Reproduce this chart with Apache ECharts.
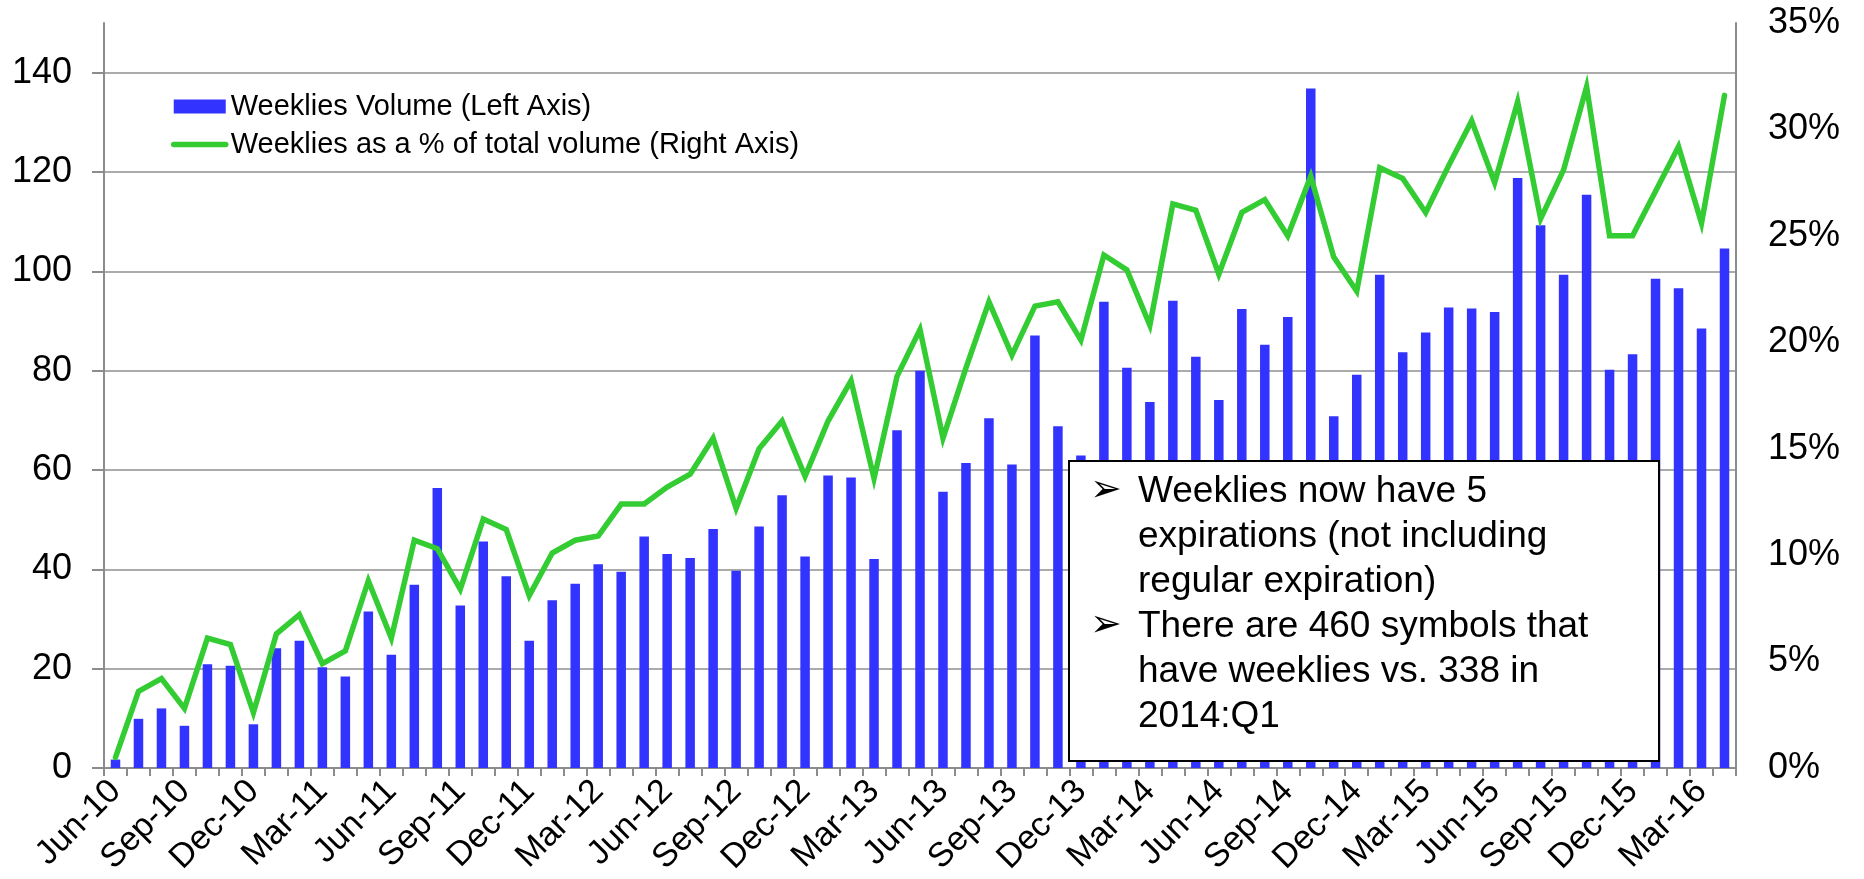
<!DOCTYPE html>
<html>
<head>
<meta charset="utf-8">
<script src="https://cdn.jsdelivr.net/npm/echarts@6/dist/echarts.min.js"></script>
<style>
  html, body { margin: 0; padding: 0; background: #ffffff; }
  #chart { width: 1864px; height: 879px; }
</style>
</head>
<body>
<div id="chart"></div>
<script>
// Monthly categories, Jun-10 through Apr-16
const months = [
  'Jun-10','Jul-10','Aug-10','Sep-10','Oct-10','Nov-10','Dec-10',
  'Jan-11','Feb-11','Mar-11','Apr-11','May-11','Jun-11','Jul-11','Aug-11','Sep-11','Oct-11','Nov-11','Dec-11',
  'Jan-12','Feb-12','Mar-12','Apr-12','May-12','Jun-12','Jul-12','Aug-12','Sep-12','Oct-12','Nov-12','Dec-12',
  'Jan-13','Feb-13','Mar-13','Apr-13','May-13','Jun-13','Jul-13','Aug-13','Sep-13','Oct-13','Nov-13','Dec-13',
  'Jan-14','Feb-14','Mar-14','Apr-14','May-14','Jun-14','Jul-14','Aug-14','Sep-14','Oct-14','Nov-14','Dec-14',
  'Jan-15','Feb-15','Mar-15','Apr-15','May-15','Jun-15','Jul-15','Aug-15','Sep-15','Oct-15','Nov-15','Dec-15',
  'Jan-16','Feb-16','Mar-16','Apr-16'
];

// Weeklies volume (left axis)
const weekliesVolume = [
  1.7, 9.9, 12.0, 8.5, 20.9, 20.6, 8.8,
  24.1, 25.6, 20.3, 18.4, 31.5, 22.8, 36.9, 56.4, 32.7, 45.6, 38.6, 25.6,
  33.8, 37.1, 41.0, 39.5, 46.6, 43.1, 42.3, 48.1, 39.7, 48.6, 54.9, 42.6,
  58.9, 58.5, 42.1, 68.0, 80.0, 55.6, 61.4, 70.4, 61.1, 87.1, 68.8, 62.9,
  93.9, 80.6, 73.7, 94.1, 82.8, 74.1, 92.4, 85.2, 90.8, 136.8, 70.8, 79.2,
  99.3, 83.7, 87.7, 92.7, 92.5, 91.8, 118.8, 109.3, 99.3, 115.4, 80.2, 83.3,
  98.5, 96.6, 88.5, 104.6
];

// Weeklies as a % of total volume (right axis)
const weekliesShare = [
  0.5, 3.6, 4.2, 2.8, 6.1, 5.8, 2.6,
  6.3, 7.2, 4.9, 5.5, 8.8, 6.1, 10.7, 10.3, 8.4, 11.7, 11.2, 8.1,
  10.1, 10.7, 10.9, 12.4, 12.4, 13.2, 13.8, 15.5, 12.2, 15.0, 16.3, 13.7,
  16.3, 18.2, 13.6, 18.4, 20.6, 15.5, 18.8, 21.9, 19.4, 21.7, 21.9, 20.1,
  24.1, 23.4, 20.8, 26.5, 26.2, 23.2, 26.1, 26.7, 25.0, 27.8, 24.0, 22.4,
  28.2, 27.7, 26.1, 28.3, 30.4, 27.5, 31.3, 25.8, 28.1, 32.0, 25.0, 25.0,
  27.1, 29.2, 25.6, 31.6
];

// Tick values
const volumeTicks = [0, 20, 40, 60, 80, 100, 120, 140];
const shareTicks = [0, 5, 10, 15, 20, 25, 30, 35];

// Series names
const volumeName = 'Weeklies Volume (Left Axis)';
const shareName = 'Weeklies as a % of total volume (Right Axis)';

// Callout text, one entry per printed line
const noteLines = [
  'Weeklies now have 5',
  'expirations (not including',
  'regular expiration)',
  'There are 460 symbols that',
  'have weeklies vs. 338 in',
  '2014:Q1'
];
const noteBullets = '\u27A2\n\n\n\u27A2';

const FONT = '"Liberation Sans", Arial, Helvetica, sans-serif';
const AXIS_GREY = '#8c8c8c';
const GRID_GREY = '#8f8f8f';
const BAR_BLUE = '#3333ff';
const LINE_GREEN = '#33cc33';

const chart = echarts.init(document.getElementById('chart'), null, { renderer: 'canvas' });

// One color per split line; the line at the axis max stays invisible
const splitColors = volumeTicks.map(() => GRID_GREY).concat(['rgba(0,0,0,0)']);

chart.setOption({
  animation: false,
  backgroundColor: '#ffffff',
  textStyle: { fontFamily: FONT },
  grid: {
    left: 104, right: 128, top: 23, bottom: 111,
    containLabel: false, outerBoundsMode: 'none'
  },
  legend: {
    orient: 'vertical',
    left: 171,
    top: 92,
    padding: 0,
    itemWidth: 52,
    itemHeight: 14,
    itemGap: 9,
    textStyle: { fontSize: 29, color: '#000', lineHeight: 29, fontFamily: FONT },
    data: [
      { name: volumeName, icon: 'rect' },
      {
        name: shareName,
        itemStyle: { color: 'rgba(0,0,0,0)', borderColor: 'rgba(0,0,0,0)', borderWidth: 0 },
        lineStyle: { color: LINE_GREEN, width: 5.5, cap: 'round' }
      }
    ]
  },
  xAxis: {
    type: 'category',
    data: months,
    boundaryGap: true,
    axisLine: { show: true, lineStyle: { color: AXIS_GREY, width: 2 } },
    axisTick: { show: true, interval: 0, length: 8, lineStyle: { color: AXIS_GREY, width: 2 } },
    axisLabel: {
      interval: 2, rotate: 45, fontSize: 34, color: '#000', margin: 18, fontFamily: FONT
    },
    splitLine: { show: false }
  },
  yAxis: [
    {
      type: 'value',
      position: 'left',
      min: 0, max: 150, interval: 20,
      axisLine: { show: true, lineStyle: { color: AXIS_GREY, width: 2 } },
      axisTick: { show: true, length: 12, lineStyle: { color: AXIS_GREY, width: 2 }, customValues: volumeTicks },
      axisLabel: { fontSize: 36, color: '#000', margin: 32, fontFamily: FONT, customValues: volumeTicks },
      splitLine: { show: true, lineStyle: { color: splitColors, width: 1.5 } }
    },
    {
      type: 'value',
      position: 'right',
      min: 0, max: 35, interval: 5,
      axisLine: { show: true, lineStyle: { color: AXIS_GREY, width: 2 } },
      axisTick: { show: false },
      axisLabel: {
        fontSize: 36, color: '#000', margin: 32, fontFamily: FONT,
        customValues: shareTicks, formatter: '{value}%'
      },
      splitLine: { show: false }
    }
  ],
  series: [
    {
      name: volumeName,
      type: 'bar',
      yAxisIndex: 0,
      data: weekliesVolume,
      barWidth: 9.5,
      itemStyle: { color: BAR_BLUE },
      z: 2
    },
    {
      name: shareName,
      type: 'line',
      yAxisIndex: 1,
      data: weekliesShare,
      symbol: 'none',
      showSymbol: false,
      smooth: false,
      lineStyle: { color: LINE_GREEN, width: 5.5, join: 'miter', cap: 'round' },
      itemStyle: { color: LINE_GREEN },
      z: 3
    }
  ],
  graphic: [
    {
      type: 'group',
      z: 100,
      children: [
        {
          type: 'rect',
          z: 100,
          shape: { x: 1069, y: 461, width: 590, height: 300 },
          style: { fill: '#ffffff', stroke: '#000000', lineWidth: 2 }
        },
        {
          type: 'text',
          z: 101,
          x: 1090, y: 469,
          style: {
            text: noteBullets,
            fontSize: 38, lineHeight: 45,
            fontFamily: '"DejaVu Sans", sans-serif',
            fill: '#000'
          }
        },
        {
          type: 'text',
          z: 101,
          x: 1138, y: 469,
          style: {
            text: noteLines.join('\n'),
            fontSize: 37, lineHeight: 45,
            fontFamily: FONT,
            fill: '#000'
          }
        }
      ]
    }
  ]
});
</script>
</body>
</html>
